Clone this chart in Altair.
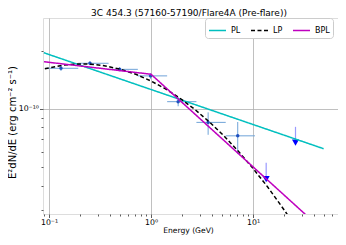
import altair as alt
import pandas as pd

chart_title = "3C 454.3 (57160-57190/Flare4A (Pre-flare))"
x_title = "Energy (GeV)"
y_title = "E²dN/dE (erg cm⁻² s⁻¹)"

# flux points (GeV, erg cm^-2 s^-1)
pt_e = [0.131, 0.252, 0.492, 0.989, 1.845, 3.63, 7.08]
pt_e_lo = [0.0916, 0.1936, 0.3837, 0.743, 1.439, 2.787, 5.40]
pt_e_hi = [0.1936, 0.3837, 0.743, 1.439, 2.787, 5.40, 10.45]
pt_f = [1.62e-10, 1.72e-10, 1.60e-10, 1.48e-10, 1.088e-10, 8.5e-11, 7.24e-11]
pt_f_lo = [1.57e-10, 1.68e-10, 1.56e-10, 1.43e-10, 1.03e-10, 7.33e-11, 5.82e-11]
pt_f_hi = [1.67e-10, 1.76e-10, 1.64e-10, 1.53e-10, 1.15e-10, 9.58e-11, 8.54e-11]

# upper limits
ul_e = [13.46, 26.09]
ul_top = [5.25e-11, 8.06e-11]
ul_f = [4.32e-11, 6.68e-11]

# model curves
model_names = ["PL", "LP", "BPL"]
model_colors = ["#00bfbf", "#000000", "#bf00bf"]
model_dashes = [[1, 0], [4, 2.5], [1, 0]]
pl_e = [0.089, 49.2]
pl_f = [1.95e-10, 6.21e-11]
lp_e = [0.091, 0.1361, 0.1895, 0.2468, 0.3286, 0.4887, 0.7105, 0.989, 1.376,
        1.915, 2.666, 3.710, 5.163, 7.184, 10.0, 13.92, 20.69, 26.96]
lp_f = [1.612e-10, 1.681e-10, 1.706e-10, 1.703e-10, 1.679e-10, 1.608e-10,
        1.508e-10, 1.396e-10, 1.271e-10, 1.135e-10, 9.954e-11, 8.57e-11,
        7.253e-11, 6.02e-11, 4.91e-11, 3.936e-11, 2.94e-11, 2.388e-11]
bpl_e = [0.0893, 1.0, 49.2]
bpl_f = [1.752e-10, 1.509e-10, 2.33e-11]

# axes
x_domain = [0.0873, 68.1]
y_domain = [2.851e-11, 2.951e-10]
x_major = [0.1, 1, 10]
x_labels = ["10⁻¹", "10⁰", "10¹"]
x_minor = [0.09, 0.2, 0.3, 0.4, 0.5, 0.6, 0.7, 0.8, 0.9,
           2, 3, 4, 5, 6, 7, 8, 9, 20, 30, 40, 50, 60]
y_major = [1e-10]
y_labels = ["10⁻¹⁰"]
y_minor = [3e-11, 4e-11, 5e-11, 6e-11, 7e-11, 8e-11, 9e-11, 2e-10]

FONT = "DejaVu Sans"


def label_expr(vals, labs):
    s = "''"
    for v, l in zip(reversed(vals), reversed(labs)):
        s = f"datum.value == {v} ? '{l}' : ({s})"
    return s


def major_test(vals):
    return " || ".join(f"datum.value == {v}" for v in vals)


def make_axis(major, labels, minor, title, **kw):
    test = major_test(major)
    return alt.Axis(
        values=sorted(major + minor),
        labelExpr=label_expr(major, labels),
        title=title,
        titleFont=FONT,
        titleFontWeight="normal",
        titleColor="black",
        labelFont=FONT,
        labelFontSize=7.8,
        labelColor="black",
        labelFlush=False,
        labelOverlap=False,
        domain=False,
        tickColor="#333333",
        tickWidth=0.8,
        tickSize={"condition": {"test": test, "value": 3.5}, "value": 2},
        grid=True,
        gridColor="#b0b0b0",
        gridWidth=0.8,
        gridOpacity={"condition": {"test": test, "value": 1}, "value": 0},
        **kw,
    )


x_axis = make_axis(x_major, x_labels, x_minor, x_title,
                   titleFontSize=7.6, labelPadding=0.5, titlePadding=0.5,
                   titleX=145)
y_axis = make_axis(y_major, y_labels, y_minor, y_title,
                   titleFontSize=10, labelPadding=1, titlePadding=1, titleY=104)

x_scale = alt.Scale(type="log", domain=x_domain, nice=False)
y_scale = alt.Scale(type="log", domain=y_domain, nice=False)

models = pd.concat([
    pd.DataFrame({"e": pl_e, "f": pl_f, "model": "PL"}),
    pd.DataFrame({"e": lp_e, "f": lp_f, "model": "LP"}),
    pd.DataFrame({"e": bpl_e, "f": bpl_f, "model": "BPL"}),
], ignore_index=True)
models["order"] = range(len(models))

pts = pd.DataFrame({"e": pt_e, "e_lo": pt_e_lo, "e_hi": pt_e_hi,
                    "f": pt_f, "f_lo": pt_f_lo, "f_hi": pt_f_hi})
uls = pd.DataFrame({"e": ul_e, "f": ul_f, "top": ul_top})

X = alt.X("e:Q", scale=x_scale, axis=x_axis)
Y = alt.Y("f:Q", scale=y_scale, axis=y_axis)

legend = alt.Legend(
    title=None, orient="none", legendX=162, legendY=0, direction="horizontal",
    columns=3, gridAlign="none",
    symbolType="stroke", symbolSize=289, symbolStrokeWidth=1.6,
    labelFont=FONT, labelFontSize=8, labelColor="black", labelOffset=4,
    columnPadding=6, padding=3, fillColor="white", strokeColor="#cccccc",
    cornerRadius=3,
)

hbars = alt.Chart(pts).mark_rule(color="#6fa3d8", strokeWidth=1).encode(
    x=alt.X("e_lo:Q", scale=x_scale, axis=x_axis), x2="e_hi:Q", y=Y
)
vbars = alt.Chart(pts).mark_rule(color="#6fa3d8", strokeWidth=1).encode(
    x=X, y=alt.Y("f_lo:Q", scale=y_scale, axis=y_axis), y2="f_hi:Q"
)
dots = alt.Chart(pts).mark_point(filled=True, size=12, opacity=1,
                                 color="#1f4fbf").encode(x=X, y=Y)
ul_lines = alt.Chart(uls).mark_rule(color="#9a9aff", strokeWidth=1.2).encode(
    x=X, y=Y, y2="top:Q"
)
ul_heads = alt.Chart(uls).mark_point(shape="triangle-down", filled=True,
                                     size=50, opacity=1,
                                     color="#0000ff").encode(x=X, y=Y)
lines = alt.Chart(models).mark_line(clip=True, strokeWidth=1.5).encode(
    x=X, y=Y,
    order="order:Q",
    color=alt.Color("model:N", scale=alt.Scale(domain=model_names,
                                               range=model_colors),
                    legend=legend),
    strokeDash=alt.StrokeDash("model:N",
                              scale=alt.Scale(domain=model_names,
                                              range=model_dashes),
                              legend=legend),
)

chart = alt.layer(hbars, vbars, dots, ul_lines, ul_heads, lines).properties(
    width=295, height=196,
    padding={"left": 35, "top": 10, "right": 0, "bottom": 23},
    autosize=alt.AutoSizeParams(type="none"),
    title=alt.TitleParams(chart_title, font=FONT, fontSize=9,
                          fontWeight="normal", color="black",
                          anchor="middle", frame="group", offset=0, dx=-1.5),
).configure_view(stroke="#666666", strokeWidth=1).configure(
    background="white"
)

chart.save("out.html", embed_options={"renderer": "svg", "actions": False})
